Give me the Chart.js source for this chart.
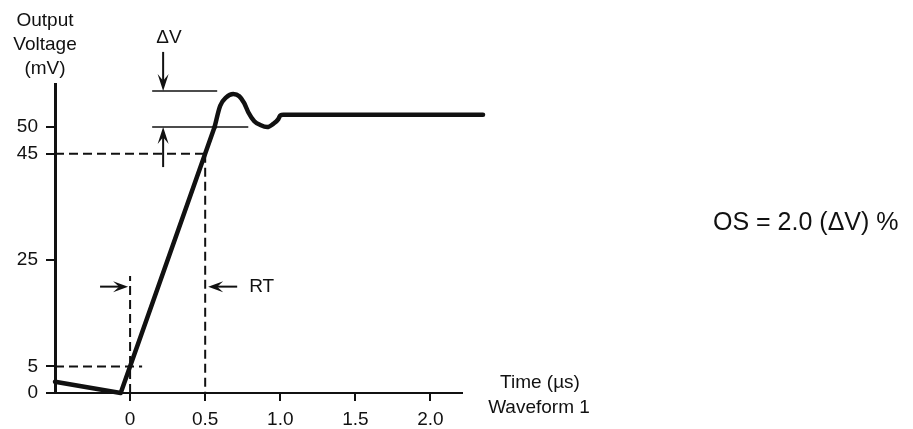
<!DOCTYPE html>
<html>
<head>
<meta charset="utf-8">
<script src="https://cdn.jsdelivr.net/npm/chart.js@4/dist/chart.umd.min.js"></script>
<style>
html, body { margin: 0; padding: 0; background: #fff; }
#wrap { width: 913px; height: 429px; position: relative; }
</style>
</head>
<body>
<div id="wrap"><canvas id="waveChart"></canvas></div>
<script>
// Waveform 1 trace (time in us, output in mV)
const rampTime = [-0.5, -0.0625, 0.5625];
const rampMv = [2.1, 0, 50];
const settleTime = [0.5625, 0.6, 0.64, 0.687, 0.727, 0.76, 0.787, 0.827, 0.867, 0.913, 0.953, 0.987, 1.0, 1.02, 2.35];
const settleMv = [50, 54, 55.6, 56.2, 55.8, 54.5, 52.8, 51.1, 50.4, 50.0, 50.6, 51.5, 52.2, 52.3, 52.3];

const xTicks = [0, 0.5, 1.0, 1.5, 2.0];
const xTickLabels = ['0', '0.5', '1.0', '1.5', '2.0'];
const yTicks = [0, 5, 25, 45, 50];
const yTickLabels = ['0', '5', '25', '45', '50'];

// rise time (10%..90%) and overshoot markers
const rtStart = 0, rtEnd = 0.5;
const rtLow = 5, rtHigh = 45;
const osTop = 56.8, osBase = 50;

const INK = '#111';
const FONT = '"Liberation Sans", Arial, Helvetica, sans-serif';

function toXY(xs, ys) {
    return xs.map((x, i) => ({ x: x, y: ys[i] }));
}

function marker(points, dashed) {
    return {
        data: points,
        borderColor: INK,
        borderWidth: dashed ? 2 : 1.5,
        borderDash: dashed ? [9, 5] : [],
        pointRadius: 0,
        tension: 0,
        clip: false
    };
}

// shaft plus a narrow barbed head ending at (x2, y2)
function arrow(ctx, x1, y1, x2, y2, len) {
    const a = Math.atan2(y2 - y1, x2 - x1);
    ctx.beginPath();
    ctx.moveTo(x1, y1);
    ctx.lineTo(x2 - 8 * Math.cos(a), y2 - 8 * Math.sin(a));
    ctx.stroke();
    ctx.save();
    ctx.translate(x2, y2);
    ctx.rotate(a);
    ctx.beginPath();
    ctx.moveTo(0, 0);
    ctx.lineTo(-len, -5.5);
    ctx.lineTo(-len * 0.6, 0);
    ctx.lineTo(-len, 5.5);
    ctx.closePath();
    ctx.fill();
    ctx.restore();
}

const notes = {
    id: 'notes',
    afterDatasetsDraw(chart) {
        const ctx = chart.ctx;
        const xs = chart.scales.x, ys = chart.scales.y;
        ctx.save();
        ctx.strokeStyle = INK;
        ctx.fillStyle = INK;
        ctx.lineWidth = 2;

        // overshoot arrows
        const ax = xs.getPixelForValue(0.22);
        const top = ys.getPixelForValue(osTop);
        const base = ys.getPixelForValue(osBase);
        arrow(ctx, ax, top - 39, ax, top, 17);
        arrow(ctx, ax, base + 40, ax, base, 17);

        // rise time arrows
        const ry = ys.getPixelForValue(20);
        arrow(ctx, xs.getPixelForValue(-0.2), ry, xs.getPixelForValue(rtStart) - 2, ry, 15);
        arrow(ctx, xs.getPixelForValue(0.713), ry, xs.getPixelForValue(rtEnd) + 3, ry, 15);

        ctx.font = '19px ' + FONT;
        ctx.textBaseline = 'middle';
        ctx.textAlign = 'left';
        ctx.fillText('RT', xs.getPixelForValue(0.713) + 12, ry);

        ctx.textAlign = 'center';
        ctx.fillText('ΔV', 169, 38);
        ctx.fillText('Output', 45, 21);
        ctx.fillText('Voltage', 45, 45);
        ctx.fillText('(mV)', 45, 69);
        ctx.fillText('Time (µs)', 540, 383);
        ctx.fillText('Waveform 1', 539, 408);

        ctx.font = '25px ' + FONT;
        ctx.textAlign = 'left';
        ctx.fillText('OS = 2.0 (ΔV) %', 713, 223);
        ctx.restore();
    }
};

const traceStyle = {
    borderColor: INK,
    borderWidth: 4.5,
    borderCapStyle: 'round',
    borderJoinStyle: 'round',
    pointRadius: 0,
    clip: false
};

new Chart(document.getElementById('waveChart'), {
    type: 'line',
    data: {
        datasets: [
            Object.assign({ data: toXY(rampTime, rampMv), tension: 0 }, traceStyle),
            Object.assign({ data: toXY(settleTime, settleMv), cubicInterpolationMode: 'monotone' }, traceStyle),
            marker([{ x: -0.5, y: rtHigh }, { x: rtEnd, y: rtHigh }], true),
            marker([{ x: rtEnd, y: rtHigh }, { x: rtEnd, y: 0 }], true),
            marker([{ x: -0.5, y: rtLow }, { x: 0.08, y: rtLow }], true),
            marker([{ x: rtStart, y: 0 }, { x: rtStart, y: 22 }], true),
            marker([{ x: 0.147, y: osTop }, { x: 0.58, y: osTop }], false),
            marker([{ x: 0.147, y: osBase }, { x: 0.787, y: osBase }], false)
        ]
    },
    options: {
        responsive: true,
        maintainAspectRatio: false,
        animation: false,
        layout: { padding: { top: 84, right: 451, bottom: 0, left: 0 } },
        plugins: { legend: { display: false }, tooltip: { enabled: false } },
        scales: {
            x: {
                type: 'linear',
                min: -0.5,
                max: 2.21,
                afterBuildTicks: s => { s.ticks = xTicks.map(v => ({ value: v })); },
                afterFit: s => { s.height = 36; },
                ticks: {
                    color: INK,
                    padding: 7,
                    maxRotation: 0,
                    font: { family: FONT, size: 19 },
                    callback: (v, i) => xTickLabels[i]
                },
                grid: { drawOnChartArea: false, drawTicks: true, tickLength: 8, color: INK, lineWidth: 2 },
                border: { display: true, color: INK, width: 2 }
            },
            y: {
                type: 'linear',
                min: 0,
                max: 58.1,
                afterBuildTicks: s => { s.ticks = yTicks.map(v => ({ value: v })); },
                afterFit: s => { s.width = 55; },
                ticks: {
                    color: INK,
                    padding: 8,
                    font: { family: FONT, size: 19 },
                    callback: (v, i) => yTickLabels[i]
                },
                grid: { drawOnChartArea: false, drawTicks: true, tickLength: 9, color: INK, lineWidth: 2 },
                border: { display: true, color: INK, width: 3 }
            }
        }
    },
    plugins: [notes]
});
</script>
</body>
</html>
